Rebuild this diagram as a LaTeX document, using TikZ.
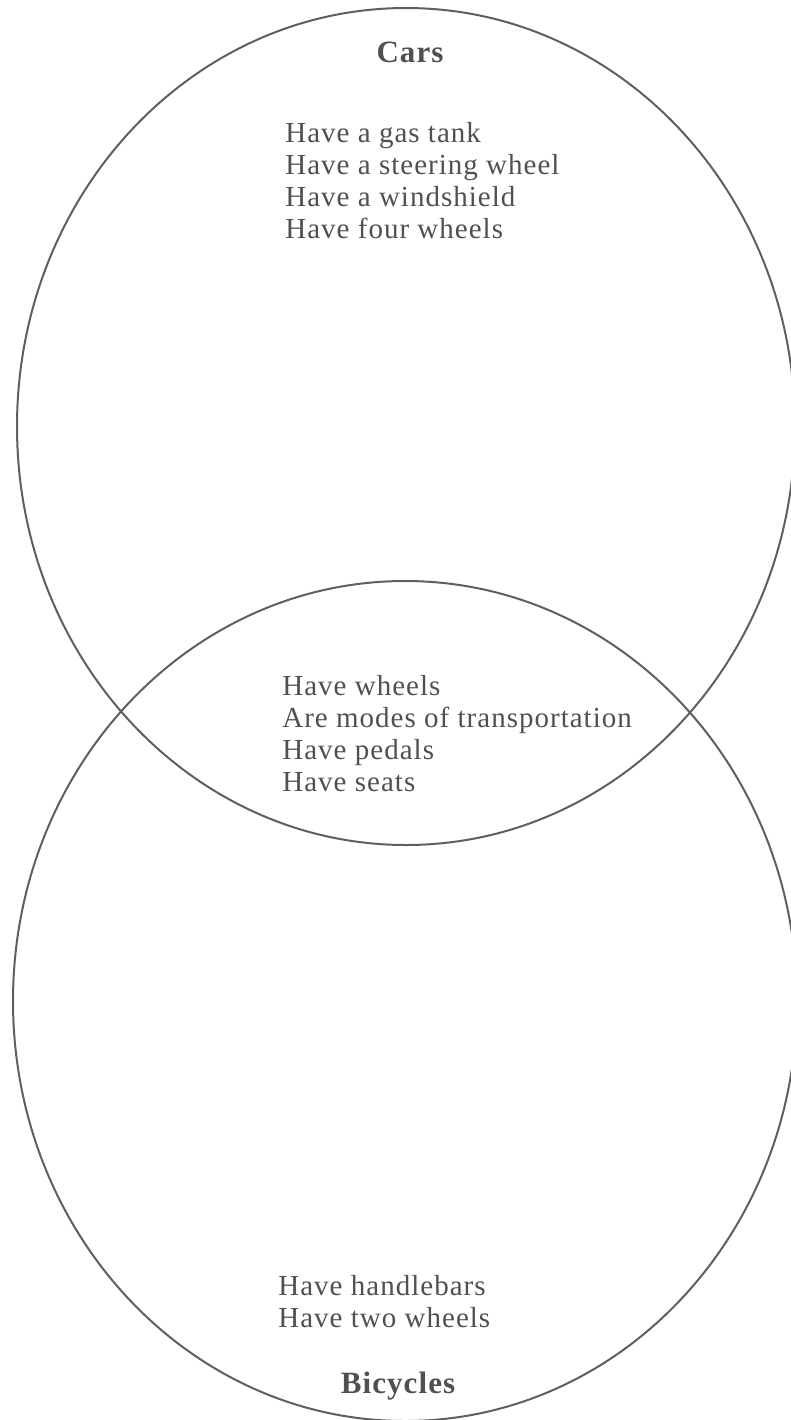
\documentclass[tikz,border=0pt]{standalone}
\usepackage{fontspec}
\setmainfont{Liberation Serif}
\definecolor{inkgray}{RGB}{80, 80, 80}
\definecolor{linegray}{RGB}{95, 95, 95}
\usetikzlibrary{shapes.geometric, positioning}
\tikzset{
	setshape/.style={ellipse, draw=linegray, line width=1pt, inner sep=0pt, outer sep=0pt},
	settitle/.style={anchor=base, text=inkgray, font=\fontsize{15.5}{18}\selectfont\bfseries\addfontfeatures{LetterSpace=3.5}},
	traits/.style={anchor=base west, align=left, inner sep=0pt, text=inkgray, font=\fontsize{14.5}{16}\selectfont\addfontfeatures{LetterSpace=3.5}},
}

\begin{document}
\begin{tikzpicture}[x=0.5pt, y=-0.5pt]
		\useasboundingbox (0,0) rectangle (791,1420);
		\node[setshape, minimum width=389pt, minimum height=418.5pt] (cars) at (406,426.5) {};
		\node[setshape, minimum width=392pt, minimum height=420pt] (bikes) at (405,1001) {};
		\node[settitle] (carstitle) at (410,62) {Cars};
		% base of a multi-line node sits on its last line
		\node[traits] (carsonly) at (285,238) {Have a gas tank\\Have a steering wheel\\Have a windshield\\Have four wheels};
		\node[traits] (both) at (282,791) {Have wheels\\Are modes of transportation\\Have pedals\\Have seats};
		\node[traits] (bikesonly) at (278,1327) {Have handlebars\\Have two wheels};
		\node[settitle] (bikestitle) at (398,1393) {Bicycles};
	\end{tikzpicture}
\end{document}
